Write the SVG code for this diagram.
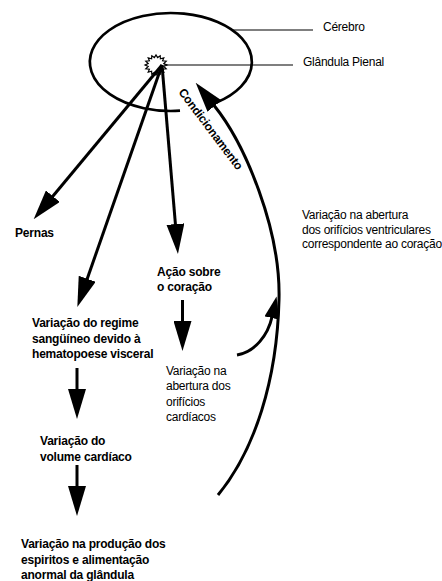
<svg xmlns="http://www.w3.org/2000/svg" width="442" height="581" viewBox="0 0 442 581">
<defs>
<style>
text{font-family:"Liberation Sans",Arial,sans-serif;font-size:12px;fill:#000}
.b{font-weight:bold;letter-spacing:-0.2px}
.n{letter-spacing:-0.25px}
.thick{fill:none;stroke:#000;stroke-width:3}
.thin{fill:none;stroke:#000;stroke-width:1.2}
</style>
<marker id="ah" viewBox="0 0 30 18" markerWidth="30" markerHeight="18" refX="1" refY="9" orient="auto" markerUnits="userSpaceOnUse"><path d="M0,0 L30,9 L0,18 z" fill="#000"/></marker>
<marker id="ahs" viewBox="0 0 22 15" markerWidth="22" markerHeight="15" refX="1" refY="7.5" orient="auto" markerUnits="userSpaceOnUse"><path d="M0,0 L22,7.5 L0,15 z" fill="#000"/></marker>
</defs>
<rect width="442" height="581" fill="#fff"/>
<g id="cerebro">
<path d="M180,110.7 A81,49 0 1,1 216,102.7" fill="none" stroke="#000" stroke-width="2.7"/>
<line x1="233" y1="30" x2="313" y2="30" class="thin"/>
<text x="323" y="30.5" class="n">Cérebro</text>
</g>
<g id="glandula">
<polygon points="167,65 163.8,66.5 166.2,68.8 162.6,69.2 163.8,72.1 160.4,71.2 160.2,74.2 157.6,72.4 156,75 154.4,72.4 151.8,74.2 151.6,71.2 148.2,72.1 149.4,69.2 145.8,68.8 148.2,66.5 145,65 148.2,63.5 145.8,61.2 149.4,60.8 148.2,57.9 151.6,58.8 151.8,55.8 154.4,57.6 156,55 157.6,57.6 160.2,55.8 160.4,58.8 163.8,57.9 162.6,60.8 166.2,61.2 163.8,63.5" fill="#fff" stroke="#000" stroke-width="1.2"/>
<line x1="164" y1="65" x2="293" y2="65" class="thin"/>
<text x="303" y="65.5" class="n">Glândula Pienal</text>
</g>
<g id="pernas"><text x="15" y="237" class="b">Pernas</text></g>
<g id="acao"><text class="b"><tspan x="157" y="276">Ação sobre</tspan><tspan x="157" y="291">o coração</tspan></text></g>
<g id="regime"><text class="b"><tspan x="32" y="327.3">Variação do regime</tspan><tspan x="32" y="342.8">sangüíneo devido à</tspan><tspan x="32" y="358.3">hematopoese visceral</tspan></text></g>
<g id="volume"><text class="b"><tspan x="40" y="445">Variação do</tspan><tspan x="40" y="460.5">volume cardíaco</tspan></text></g>
<g id="producao"><text class="b"><tspan x="21" y="548">Variação na produção dos</tspan><tspan x="21" y="563.5">espiritos e alimentação</tspan><tspan x="21" y="579">anormal da glândula</tspan></text></g>
<g id="orificios-cardiacos"><text class="n"><tspan x="166" y="374.5">Variação na</tspan><tspan x="166" y="390">abertura dos</tspan><tspan x="166" y="405.5">orifícios</tspan><tspan x="166" y="421">cardíacos</tspan></text></g>
<g id="orificios-ventriculares"><text class="n"><tspan x="302" y="219">Variação na abertura</tspan><tspan x="302" y="233.7">dos orifícios ventriculares</tspan><tspan x="302" y="248.4">correspondente ao coração</tspan></text></g>
<g id="connectors">
<path d="M162,65 L52.2,197" class="thick" marker-end="url(#ah)"/>
<path d="M162,65 L86.9,279.7" class="thick" marker-end="url(#ah)"/>
<path d="M162,65 L175.5,225.1" class="thick" marker-end="url(#ah)"/>
<path d="M182.5,300 L182.5,322" class="thick" marker-end="url(#ah)"/>
<path d="M77,368 L77,390" class="thick" marker-end="url(#ah)"/>
<path d="M77,465 L77,487" class="thick" marker-end="url(#ah)"/>
<path d="M218,495 C255,450 277,380 279,300 C281,230 245.4,144.3 213.9,105.3" class="thick" marker-end="url(#ah)"/>
<path d="M237,355 C255,352 268,335 272,317" class="thick" marker-end="url(#ahs)"/>
<text transform="translate(207.5,131.5) rotate(53)" text-anchor="middle" class="b">Condicionamento</text>
</g>
</svg>
